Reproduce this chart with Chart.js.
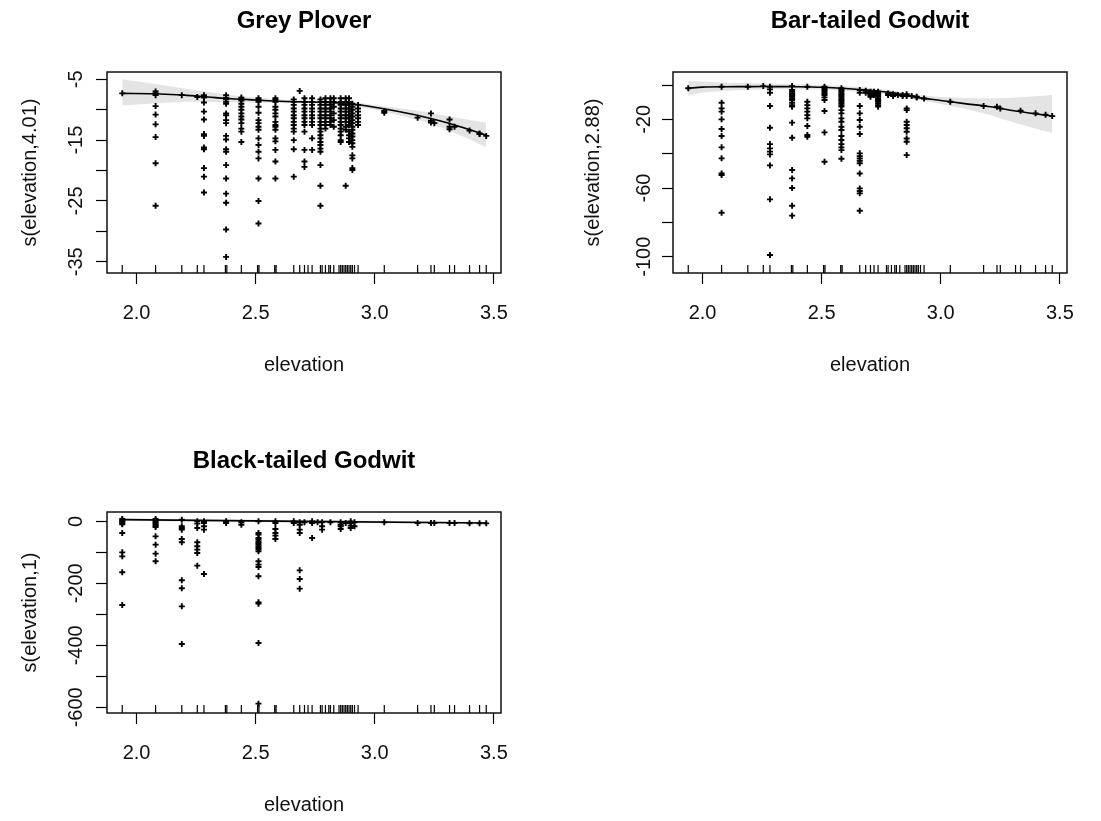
<!DOCTYPE html>
<html><head><meta charset="utf-8">
<script src="https://cdn.jsdelivr.net/npm/chart.js@4.4.1/dist/chart.umd.min.js"></script>
<style>
html,body{margin:0;padding:0;background:#fff;width:1101px;height:821px;overflow:hidden}
canvas{position:absolute;display:block}
</style></head><body>
<canvas id="c1" width="550" height="410" style="left:0;top:0"></canvas>
<canvas id="c2" width="551" height="410" style="left:550px;top:0"></canvas>
<canvas id="c3" width="550" height="381" style="left:0;top:440px"></canvas>
<script>
// ---------------- data ----------------
const xRange = [1.876, 3.53];
const xTicks = [2.0, 2.5, 3.0, 3.5];
const xTitle = 'elevation';
const elevationRug = [1.94, 2.08, 2.19, 2.255, 2.283, 2.373, 2.379, 2.44, 2.508, 2.514, 2.58, 2.586,
  2.66, 2.685, 2.705, 2.72, 2.737, 2.772, 2.779, 2.793, 2.807, 2.814, 2.828, 2.85, 2.857, 2.864,
  2.871, 2.878, 2.885, 2.892, 2.899, 2.906, 2.915, 2.93, 3.04, 3.18, 3.236, 3.25, 3.314, 3.335,
  3.398, 3.44, 3.468];

// Grey Plover
const gpTitle = 'Grey Plover';
const gpYTitle = 's(elevation,4.01)';
const gpYRange = [-36.85, -3.79];
const gpYTicks = [-35, -30, -25, -20, -15, -10, -5];
const gpYLabels = [-35, -25, -15, -5];
const gpFitX  = [1.94, 2.1, 2.2, 2.3, 2.4, 2.5, 2.6, 2.7, 2.8, 2.9, 3.0, 3.1, 3.2, 3.3, 3.4, 3.468];
const gpFit   = [-7.3, -7.4, -7.6, -7.9, -8.2, -8.4, -8.6, -8.7, -8.8, -9.0, -9.6, -10.3, -11.1, -12.1, -13.3, -14.2];
const gpUpper = [-5.0, -5.9, -6.5, -7.1, -7.6, -8.0, -8.3, -8.45, -8.55, -8.7, -9.2, -9.7, -10.3, -11.0, -11.7, -12.1];
const gpLower = [-9.3, -8.9, -8.7, -8.7, -8.8, -8.8, -8.9, -8.95, -9.05, -9.3, -10.0, -10.9, -11.9, -13.2, -14.9, -16.2];
const gpResid = [
  [1.94, [-7.3]],
  [2.08, [-7.0, -7.3, -7.6, -9.4, -10.8, -12.4, -14.5, -18.8, -25.8]],
  [2.19, [-7.6]],
  [2.255, [-7.9]],
  [2.283, [-7.6, -8.0, -8.8, -10.3, -11.6, -14.0, -14.3, -16.2, -16.5, -19.6, -21.0, -23.6]],
  [2.376, [-7.6, -8.0, -8.3, -8.7, -9.0, -10.6, -10.9, -11.7, -12.2, -14.3, -14.9, -16.5, -16.9, -19.1, -21.3, -23.8, -25.3, -29.7, -34.2]],
  [2.44, [-8.0, -8.3, -8.5, -9.0, -9.5, -10.0, -10.6, -11.1, -11.6, -12.2, -13.1, -13.6, -15.3]],
  [2.512, [-8.1, -8.4, -8.7, -9.5, -10.5, -11.7, -12.2, -12.8, -13.3, -14.7, -15.8, -16.9, -18.0, -21.3, -25.0, -28.7]],
  [2.583, [-8.1, -8.4, -8.7, -9.5, -10.0, -10.6, -11.1, -12.0, -12.5, -12.8, -13.3, -14.7, -15.2, -16.6, -18.5, -21.3]],
  [2.66, [-8.3, -8.7, -9.2, -9.8, -10.3, -10.9, -11.4, -12.0, -12.5, -13.1, -13.6, -15.0, -16.5, -21.0]],
  [2.685, [-6.9]],
  [2.705, [-8.1, -8.7, -9.2, -9.8, -10.3, -10.9, -11.4, -12.0, -12.5, -13.6, -16.6, -18.5, -19.4]],
  [2.737, [-8.1, -8.7, -9.2, -9.8, -10.3, -10.9, -11.4, -12.0, -12.5, -14.7, -16.6]],
  [2.772, [-8.3, -8.7, -9.2, -9.8, -10.3, -10.9, -11.4, -12.0, -12.5, -13.1, -13.6, -14.2, -14.7, -15.3, -15.8, -16.4, -16.9, -19.1, -22.5, -25.8]],
  [2.793, [-8.1, -8.7, -9.2, -9.8, -10.3, -10.9, -11.4, -12.0, -12.5, -13.1]],
  [2.814, [-8.1, -8.7, -9.2, -9.8, -10.3, -10.9, -11.4, -12.0, -12.5]],
  [2.828, [-8.1, -8.7, -9.5, -10.6, -11.7, -12.8]],
  [2.857, [-8.1, -8.7, -9.2, -9.8, -10.3, -10.9, -11.4, -12.0, -12.5, -13.1, -13.6, -14.2, -15.0, -15.3]],
  [2.878, [-8.1, -8.7, -9.2, -9.8, -10.3, -10.9, -11.4, -12.0, -12.8, -13.3, -22.5]],
  [2.892, [-8.1, -8.7, -9.2, -9.8, -10.3, -10.9, -11.4, -12.0, -12.5, -13.6, -14.2, -14.7, -15.3]],
  [2.906, [-9.0, -9.5, -10.0, -10.6, -11.1, -11.7, -12.2, -12.8, -13.3, -13.9, -14.4, -15.0, -15.5, -16.1, -17.5, -18.0, -19.6, -19.9]],
  [2.93, [-9.2, -9.8, -10.3, -10.9, -11.4, -12.0, -12.5]],
  [3.04, [-10.2, -10.5]],
  [3.18, [-11.3]],
  [3.236, [-10.6, -11.8, -12.1]],
  [3.25, [-12.2]],
  [3.314, [-11.6, -12.8, -13.2]],
  [3.335, [-12.8]],
  [3.398, [-13.4]],
  [3.44, [-13.9, -14.0]],
  [3.468, [-14.3]]
];

// Bar-tailed Godwit
const btTitle = 'Bar-tailed Godwit';
const btYTitle = 's(elevation,2.88)';
const btYRange = [-109.5, 7.6];
const btYTicks = [-100, -80, -60, -40, -20, 0];
const btYLabels = [-100, -60, -20];
const btFitX  = [1.94, 2.0, 2.1, 2.2, 2.3, 2.4, 2.5, 2.6, 2.7, 2.8, 2.9, 3.0, 3.1, 3.2, 3.3, 3.4, 3.468];
const btFit   = [-1.9, -1.2, -1.0, -0.9, -0.9, -1.0, -1.3, -2.0, -3.0, -4.5, -7.2, -9.0, -10.8, -12.5, -14.8, -16.8, -18.0];
const btUpper = [2.5, 2.0, 1.3, 1.0, 0.7, 0.4, 0.0, -0.6, -1.7, -3.2, -5.8, -7.0, -7.6, -7.8, -7.4, -6.6, -5.8];
const btLower = [-6.3, -4.4, -3.3, -2.8, -2.5, -2.4, -2.6, -3.4, -4.3, -5.8, -8.6, -11.0, -13.8, -17.2, -21.5, -25.5, -28.0];
const btResid = [
  [1.94, [-1.9]],
  [2.08, [-1.0, -10.3, -13.6, -15.5, -20.0, -25.6, -29.7, -36.3, -42.7, -51.5, -52.4, -74.4]],
  [2.19, [-1.0]],
  [2.255, [-0.6]],
  [2.283, [-1.0, -2.5, -4.5, -12.2, -24.9, -34.4, -36.9, -38.8, -40.4, -46.8, -66.6, -99.0]],
  [2.376, [-0.6, -2.9, -3.9, -4.9, -5.8, -6.8, -7.8, -8.7, -10.3, -11.7, -12.6, -21.9, -30.7, -49.5, -54.4, -60.0, -70.3, -76.1]],
  [2.44, [-1.0, -9.7, -11.7, -13.6, -15.5, -17.5, -19.4, -23.9, -29.1, -30.1]],
  [2.512, [-1.0, -1.9, -2.9, -3.9, -4.9, -5.8, -7.2, -8.7, -15.1, -27.6, -44.7]],
  [2.583, [-1.9, -2.9, -3.9, -4.9, -5.8, -6.8, -7.8, -8.7, -9.7, -10.7, -11.7, -12.6, -14.6, -16.5, -19.4, -21.4, -24.3, -26.2, -29.7, -32.0, -34.4, -36.3, -37.9, -42.9]],
  [2.66, [-2.9, -4.5, -12.2, -16.5, -20.4, -24.3, -28.5, -39.8, -41.4, -42.7, -44.1, -45.6, -51.5, -60.2, -61.7, -63.1, -73.2]],
  [2.685, [-3.3, -4.5]],
  [2.705, [-3.9, -4.9, -5.8, -6.8]],
  [2.72, [-3.9, -4.9, -5.8]],
  [2.737, [-3.9, -4.9, -5.8, -6.8, -7.8, -8.7, -9.7, -10.7, -11.7, -12.6]],
  [2.779, [-4.9, -5.8]],
  [2.8, [-5.4, -6.4]],
  [2.82, [-5.8]],
  [2.84, [-5.8, -6.4]],
  [2.857, [-5.4, -6.4, -13.6, -14.6, -21.4, -23.3, -25.2, -27.2, -31.1, -33.0, -40.8]],
  [2.878, [-6.4]],
  [2.899, [-6.8, -7.2]],
  [2.93, [-7.8]],
  [3.04, [-9.7]],
  [3.18, [-12.2]],
  [3.236, [-12.6]],
  [3.25, [-13.6]],
  [3.335, [-15.0]],
  [3.398, [-16.5]],
  [3.44, [-17.3]],
  [3.468, [-18.1]]
];

// Black-tailed Godwit
const bkTitle = 'Black-tailed Godwit';
const bkYTitle = 's(elevation,1)';
const bkYRange = [-618.3, 30.1];
const bkYTicks = [-600, -500, -400, -300, -200, -100, 0];
const bkYLabels = [-600, -400, -200, 0];
const bkFitX  = [1.94, 3.468];
const bkFit   = [5.4, -5.4];
const bkUpper = [9.4, -1.4];
const bkLower = [1.4, -9.4];
const bkResid = [
  [1.94, [7.5, 3.2, 0, -3.2, -6.5, -9.7, -37.6, -100.0, -112.9, -164.5, -269.9]],
  [2.08, [7.5, 3.2, -1.1, -5.4, -9.7, -14.0, -18.3, -48.4, -75.3, -104.3, -129.0]],
  [2.19, [5.4, -16.1, -21.5, -26.9, -57.0, -67.7, -190.3, -216.1, -274.2, -395.7]],
  [2.255, [0, -7.5, -21.5, -67.7, -80.6, -91.4, -102.2, -143.0]],
  [2.283, [0, -5.4, -16.1, -26.9, -169.9]],
  [2.376, [0, -5.4]],
  [2.44, [-3.2, -10.8]],
  [2.512, [0, -37.6, -43.0, -53.8, -59.1, -64.5, -69.9, -75.3, -80.6, -86.0, -91.4, -96.8, -129.0, -139.8, -147.3, -177.4, -261.3, -265.6, -392.5, -588.2]],
  [2.583, [0, -5.4, -24.7, -37.6, -46.2, -57.0]],
  [2.66, [0, -5.4]],
  [2.685, [-3.2, -10.8, -26.9, -37.6, -158.1, -186.0, -217.2]],
  [2.705, [-3.2]],
  [2.737, [0, -5.4, -53.8]],
  [2.76, [-3.2]],
  [2.779, [-3.2, -16.1, -26.9]],
  [2.814, [-3.2]],
  [2.857, [-3.2, -10.8, -16.1, -24.7]],
  [2.878, [-5.4]],
  [2.899, [0, -5.4, -14.0, -21.5]],
  [2.915, [-3.2, -16.1]],
  [3.04, [-3.2]],
  [3.18, [-5.4]],
  [3.236, [-5.4]],
  [3.25, [-5.4]],
  [3.314, [-5.4]],
  [3.335, [-5.4]],
  [3.398, [-6.5]],
  [3.44, [-6.5]],
  [3.468, [-6.5]]
];

// ---------------- drawing ----------------
const FONT = '"Liberation Sans", Arial, Helvetica, sans-serif';
const AX_SIZE = 20, TITLE_SIZE = 24, TICK_LEN = 11;
const BAND = '#e4e4e4';

function measureWidest(labels) {
  const c = document.createElement('canvas').getContext('2d');
  c.font = 'normal ' + AX_SIZE + 'px ' + FONT;
  return Math.max.apply(null, labels.map(l => c.measureText(String(l)).width));
}

const rugPlugin = {
  id: 'rug',
  afterDatasetsDraw(chart, args, opts) {
    const {ctx, chartArea, scales} = chart;
    ctx.save();
    ctx.strokeStyle = '#000';
    ctx.lineWidth = 1.2;
    ctx.beginPath();
    (opts.values || []).forEach(v => {
      const px = scales.x.getPixelForValue(v);
      ctx.moveTo(px, chartArea.bottom);
      ctx.lineTo(px, chartArea.bottom - opts.len);
    });
    ctx.stroke();
    ctx.restore();
  }
};
const boxPlugin = {
  id: 'box',
  afterDraw(chart) {
    const {ctx, chartArea: a} = chart;
    ctx.save();
    ctx.strokeStyle = '#111';
    ctx.lineWidth = 1.5;
    ctx.strokeRect(a.left, a.top, a.right - a.left, a.bottom - a.top);
    ctx.restore();
  }
};

function xy(xs, ys) { return xs.map((x, i) => ({x: x, y: ys[i]})); }
function flatten(resid) {
  const pts = [];
  resid.forEach(([x, ys]) => ys.forEach(y => pts.push({x: x, y: y})));
  return pts;
}

function makePanel(id, d, lay) {
  const widest = measureWidest(d.yLabels);
  const yPad = (lay.yLabelGap - TICK_LEN) - widest / 2;
  return new Chart(document.getElementById(id), {
    type: 'scatter',
    data: {
      datasets: [
        {data: xy(d.fitX, d.upper), showLine: true, pointRadius: 0, borderWidth: 0,
         borderColor: 'rgba(0,0,0,0)', backgroundColor: BAND, fill: '+1', order: 4},
        {data: xy(d.fitX, d.lower), showLine: true, pointRadius: 0, borderWidth: 0,
         borderColor: 'rgba(0,0,0,0)', fill: false, order: 3},
        {data: xy(d.fitX, d.fit), showLine: true, pointRadius: 0, borderWidth: 1.6,
         borderColor: '#000', fill: false, tension: 0.3, order: 2},
        {data: flatten(d.resid), pointStyle: 'cross', pointRadius: 3, pointBorderWidth: 1.9,
         pointBorderColor: '#000', pointBackgroundColor: '#000', showLine: false, order: 1}
      ]
    },
    options: {
      responsive: false, animation: false, events: [],
      layout: {padding: {left: 0, right: lay.padRight, top: 0, bottom: 0}},
      plugins: {
        legend: {display: false}, tooltip: {enabled: false},
        title: {display: true, text: d.title, color: '#000', fullSize: false,
          font: {family: FONT, size: TITLE_SIZE, weight: 'bold', lineHeight: 1.2},
          padding: {top: lay.titleTop, bottom: lay.titleBottom}},
        rug: {values: elevationRug, len: 8}
      },
      scales: {
        x: {
          type: 'linear', position: 'bottom', min: xRange[0], max: xRange[1],
          afterBuildTicks: s => { s.ticks = xTicks.map(v => ({value: v})); },
          afterFit: s => { s.height = lay.xScaleHeight; },
          ticks: {callback: v => Number(v).toFixed(1), color: '#111', autoSkip: false,
            maxRotation: 0, minRotation: 0, padding: lay.xTickPad,
            font: {family: FONT, size: AX_SIZE, lineHeight: 1.2}},
          grid: {drawOnChartArea: false, drawTicks: true, tickLength: TICK_LEN, tickColor: '#000', tickWidth: 1.2},
          border: {display: false},
          title: {display: true, text: xTitle, color: '#111',
            font: {family: FONT, size: AX_SIZE, lineHeight: 1.2},
            padding: {top: 0, bottom: lay.xTitlePad}}
        },
        y: {
          type: 'linear', position: 'left', min: d.yRange[0], max: d.yRange[1],
          afterBuildTicks: s => { s.ticks = d.yTicks.map(v => ({value: v})); },
          afterFit: s => { s.width = lay.yScaleWidth; },
          ticks: {callback: v => d.yLabels.indexOf(v) >= 0 ? String(v) : '', color: '#111',
            autoSkip: false, minRotation: 90, maxRotation: 90, crossAlign: 'center', padding: yPad,
            font: {family: FONT, size: AX_SIZE, lineHeight: 1.2}},
          grid: {drawOnChartArea: false, drawTicks: true, tickLength: TICK_LEN, tickColor: '#000', tickWidth: 1.2},
          border: {display: false},
          title: {display: true, text: d.yTitle, color: '#111',
            font: {family: FONT, size: AX_SIZE, lineHeight: 1.2},
            padding: {top: lay.yTitlePad, bottom: 0}}
        }
      }
    },
    plugins: [rugPlugin, boxPlugin]
  });
}

makePanel('c1',
  {title: gpTitle, yTitle: gpYTitle, yRange: gpYRange, yTicks: gpYTicks, yLabels: gpYLabels,
   fitX: gpFitX, fit: gpFit, upper: gpUpper, lower: gpLower, resid: gpResid},
  {padRight: 49, yScaleWidth: 107, xScaleHeight: 137, titleTop: 6.6, titleBottom: 36.6,
   xTickPad: 17, xTitlePad: 33, yTitlePad: 18, yLabelGap: 31});
makePanel('c2',
  {title: btTitle, yTitle: btYTitle, yRange: btYRange, yTicks: btYTicks, yLabels: btYLabels,
   fitX: btFitX, fit: btFit, upper: btUpper, lower: btLower, resid: btResid},
  {padRight: 34, yScaleWidth: 123, xScaleHeight: 137, titleTop: 6.6, titleBottom: 36.6,
   xTickPad: 17, xTitlePad: 33, yTitlePad: 31, yLabelGap: 29});
makePanel('c3',
  {title: bkTitle, yTitle: bkYTitle, yRange: bkYRange, yTicks: bkYTicks, yLabels: bkYLabels,
   fitX: bkFitX, fit: bkFit, upper: bkUpper, lower: bkLower, resid: bkResid},
  {padRight: 49, yScaleWidth: 107, xScaleHeight: 108, titleTop: 6.6, titleBottom: 36.6,
   xTickPad: 17, xTitlePad: 4, yTitlePad: 18, yLabelGap: 31});
</script>
</body></html>
